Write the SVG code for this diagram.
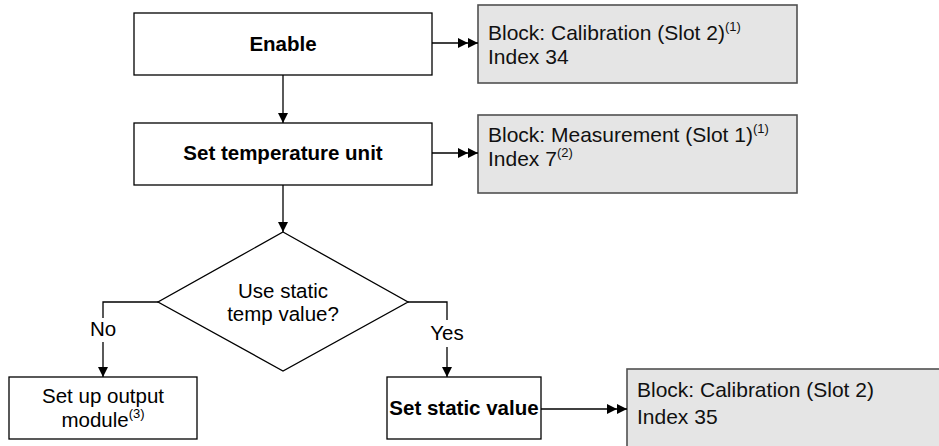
<svg xmlns="http://www.w3.org/2000/svg" width="939" height="446" viewBox="0 0 939 446">
<style>
text{font-family:"Liberation Sans",Arial,sans-serif;font-size:20.5px;fill:#000}
.b{font-weight:bold}
.g text{font-size:21px;fill:#111}
.sup{font-size:13px}
.box{fill:#fff;stroke:#000;stroke-width:1.3}
.gbox{fill:#e5e5e5;stroke:#505050;stroke-width:1.6}
.ln{fill:none;stroke:#000;stroke-width:1.3}
</style>
<defs>
<marker id="a1" viewBox="0 0 10 10" refX="10" refY="5" markerWidth="10" markerHeight="10" markerUnits="userSpaceOnUse" orient="auto"><path d="M0,0 L10,5 L0,10 Z" fill="#000"/></marker>
<marker id="a2" viewBox="0 0 20 10" refX="20" refY="5" markerWidth="20" markerHeight="10" markerUnits="userSpaceOnUse" orient="auto"><path d="M0,0 L10,5 L0,10 Z M10,0 L20,5 L10,10 Z" fill="#000"/></marker>
</defs>
<g id="enable"><rect class="box" x="134" y="13" width="298" height="62"/><text class="b" x="283" y="51" text-anchor="middle">Enable</text></g>
<g id="calib1" class="g"><rect class="gbox" x="478" y="5" width="319" height="78"/><text x="488" y="40">Block: Calibration (Slot 2)<tspan class="sup" dy="-9">(1)</tspan></text><text x="488" y="64">Index 34</text></g>
<g id="settemp"><rect class="box" x="134" y="123" width="298" height="62"/><text class="b" x="283" y="160" text-anchor="middle">Set temperature unit</text></g>
<g id="meas" class="g"><rect class="gbox" x="478" y="115" width="319" height="78"/><text x="488" y="142">Block: Measurement (Slot 1)<tspan class="sup" dy="-9">(1)</tspan></text><text x="488" y="166">Index 7<tspan class="sup" dy="-9">(2)</tspan></text></g>
<g id="decision"><path class="box" d="M283,232 L408,302 L283,371 L158,302 Z"/><text x="283" y="298" text-anchor="middle">Use static</text><text x="283" y="321" text-anchor="middle">temp value?</text></g>
<g id="output"><rect class="box" x="9" y="377" width="188" height="62"/><text x="103" y="403" text-anchor="middle">Set up output</text><text x="103" y="427" text-anchor="middle">module<tspan class="sup" dy="-9">(3)</tspan></text></g>
<g id="static"><rect class="box" x="387" y="377" width="154" height="62"/><text class="b" x="464" y="415" text-anchor="middle">Set static value</text></g>
<g id="calib2" class="g"><rect class="gbox" x="627" y="369" width="330" height="90"/><text x="637" y="397">Block: Calibration (Slot 2)</text><text x="637" y="424">Index 35</text></g>
<g id="connectors">
<line class="ln" x1="283" y1="75" x2="283" y2="123" marker-end="url(#a1)"/>
<line class="ln" x1="283" y1="185" x2="283" y2="232" marker-end="url(#a1)"/>
<line class="ln" x1="432" y1="43" x2="478" y2="43" marker-end="url(#a2)"/>
<line class="ln" x1="432" y1="153" x2="478" y2="153" marker-end="url(#a2)"/>
<line class="ln" x1="541" y1="409" x2="627" y2="409" marker-end="url(#a2)"/>
<polyline class="ln" points="158,302 103,302 103,318"/>
<line class="ln" x1="103" y1="342" x2="103" y2="377" marker-end="url(#a1)"/>
<polyline class="ln" points="408,302 447,302 447,320"/>
<line class="ln" x1="447" y1="347" x2="447" y2="377" marker-end="url(#a1)"/>
<text x="103" y="336" text-anchor="middle">No</text>
<text x="447" y="340" text-anchor="middle">Yes</text>
</g>
</svg>
